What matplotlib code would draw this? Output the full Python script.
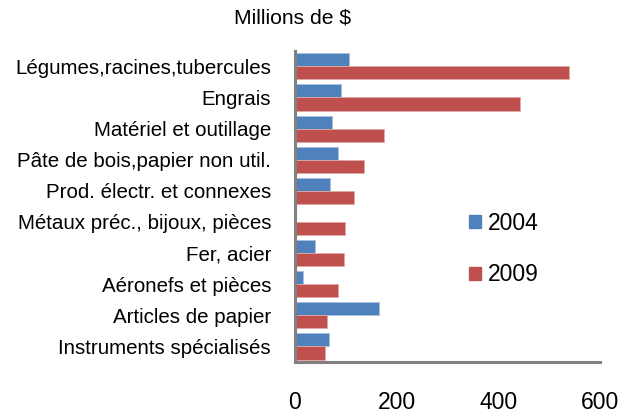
import numpy as np
import matplotlib
matplotlib.use("Agg")
import matplotlib.pyplot as plt
from matplotlib.patches import Patch

plt.rcParams['font.family'] = ['Liberation Sans', 'DejaVu Sans']

# data (millions de $)
categories = ["Légumes,racines,tubercules", "Engrais", "Matériel et outillage",
              "Pâte de bois,papier non util.", "Prod. électr. et connexes",
              "Métaux préc., bijoux, pièces", "Fer, acier", "Aéronefs et pièces",
              "Articles de papier", "Instruments spécialisés"]
v2004 = [107, 91, 74, 85, 70, 0, 40, 16, 165, 68]
v2009 = [539, 443, 176, 137, 117, 99, 97, 85, 64, 59]
xticks = [0, 200, 400, 600]

blue = "#4F81BD"
red = "#C0504D"

fig = plt.figure(figsize=(6.35, 4.13), dpi=100)
ax = fig.add_axes([0.464, 0.1235, 0.481, 0.7535])

y = np.arange(len(categories))
h = 0.42
ax.barh(y - h/2, v2004, height=h, color=blue, edgecolor="#A9C0DE", linewidth=0.6)
ax.barh(y + h/2, v2009, height=h, color=red, edgecolor="#E0A9A7", linewidth=0.6)

ax.set_ylim(len(categories) - 0.5, -0.5)
ax.set_xlim(0, 600)
ax.set_yticks(y)
ax.set_yticklabels(categories, fontsize=14.8)
ax.set_xticks(xticks)
ax.set_xticklabels([str(t) for t in xticks], fontsize=16.5)
ax.tick_params(axis='both', length=0)
ax.tick_params(axis='y', pad=17)
ax.tick_params(axis='x', pad=21)

for s in ['top', 'right']:
    ax.spines[s].set_visible(False)
for s in ['left', 'bottom']:
    ax.spines[s].set_color("#808080")
    ax.spines[s].set_linewidth(2.2)

fig.text(0.4606, 0.956, "Millions de $", ha='center', va='center', fontsize=15.2)

handles = [Patch(color=blue, label="2004"), Patch(color=red, label="2009")]
fig.legend(handles=handles, loc='center left', bbox_to_anchor=(0.739, 0.397),
           frameon=False, fontsize=16.5, handlelength=0.52, handleheight=0.52,
           handletextpad=0.28, labelspacing=1.25, borderpad=0, borderaxespad=0)

plt.savefig("out.png", dpi=100)
